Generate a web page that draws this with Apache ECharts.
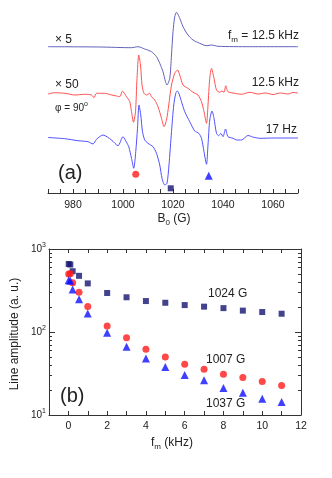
<!DOCTYPE html>
<html>
<head>
<meta charset="utf-8">
<script src="https://cdn.jsdelivr.net/npm/echarts@6/dist/echarts.min.js"></script>
<style>
html,body{margin:0;padding:0;background:#fff;}
#c{width:332px;height:478px;}
</style>
</head>
<body>
<div id="c"></div>
<script>
// ---- Panel (a): spectra (field in G, amplitude in arbitrary offset units) ----
var fieldA = [970, 990.7, 1003.4, 1006, 1008.7, 1011.4, 1013.4, 1014.7, 1016, 1017, 1017.6, 1018.7, 1019.4, 1020, 1020.7, 1021.4, 1022.7, 1024, 1026, 1028, 1030.7, 1033.4, 1035.4, 1038, 1050.7, 1070];
var ampA   = [146.3, 146, 145.3, 146.3, 144, 141.3, 136.3, 129.7, 121.3, 111.3, 108, 114.7, 138, 161.3, 176.3, 180.7, 174.7, 166.3, 158, 153, 149.7, 147.3, 148, 146.7, 146.3, 146.3];

var fieldB = [970, 972.7, 976.7, 980.7, 984.7, 987.4, 988.4, 989.4, 992.7, 995.4, 997.4, 998.7, 999.8, 1001.4, 1002.7, 1003.4, 1004.2, 1005, 1005.6, 1006.3, 1007, 1007.6, 1008.4, 1009.4, 1010.7, 1011.4, 1012.7, 1014, 1015.4, 1016.4, 1017.4, 1018.3, 1019.4, 1020.7, 1021.8, 1022.7, 1024, 1026, 1028, 1030, 1031.4, 1032.4, 1033.4, 1034, 1034.7, 1035.4, 1036.4, 1037.4, 1038.7, 1039.6, 1040.4, 1041.1, 1042, 1044.7, 1047.4, 1050.7, 1054, 1057, 1060, 1063, 1066, 1068, 1070];
var ampB   = [99, 100.3, 99.7, 98, 98.7, 98, 95.3, 99.7, 99.7, 98, 97, 96.3, 101.8, 96.3, 91.3, 81.3, 70.7, 81.3, 114.7, 138, 128, 108, 99.7, 98, 99.7, 96.3, 93, 86.3, 74.7, 66.3, 73, 88, 108, 119.7, 123, 118, 108, 104.7, 100.7, 98, 91.3, 81.3, 69.7, 88, 114.7, 124.7, 114.7, 103, 100.7, 102, 100.7, 107.3, 101.3, 99.7, 98.7, 100.7, 99, 100, 98.5, 100, 99, 100.5, 100];

var fieldC = [970, 976.7, 982, 986, 988, 989.4, 992, 995.4, 998, 1000, 1001.4, 1002.3, 1003.4, 1004.3, 1005.1, 1005.8, 1006.4, 1007.1, 1007.8, 1008.7, 1010, 1012, 1013.4, 1014.7, 1015.6, 1016.7, 1017.6, 1018.4, 1019.4, 1020.3, 1021.1, 1021.7, 1022.3, 1023.4, 1024.7, 1026.7, 1028.7, 1030.3, 1031.4, 1032.4, 1033.4, 1034, 1034.7, 1035.6, 1036.4, 1037.4, 1038.3, 1039.1, 1040, 1041, 1042, 1044, 1045.5, 1047.4, 1050, 1051.9, 1054.7, 1060.7, 1070];
var ampC   = [55.5, 54.3, 52.3, 51.3, 49, 53.7, 58, 53, 47.3, 56.3, 50.7, 46.3, 34.7, 24.7, 41.3, 64.7, 88, 78, 61.3, 53, 49.7, 46.3, 39.7, 28, 14.7, 8, 9.7, 28, 61.3, 88, 99.7, 102, 100, 91.3, 81.3, 71.3, 62, 59.7, 54.7, 41.3, 28.7, 48, 73, 82, 74.7, 59.7, 57.3, 59.7, 56.3, 64, 56.3, 54.7, 53, 53, 57.5, 56, 54.7, 55, 55];

// markers under the spectrum lines
var markCircleA = [[1005.1, 18.7]];
var markSquareA = [[1019.1, 4.7]];
var markTriA    = [[1034.3, 17.3]];

// ---- Panel (b): line amplitude vs modulation frequency ----
var fm      = [0.017, 0.1, 0.22, 0.55, 1, 2, 3, 4, 5, 6, 7, 8, 9, 10, 11];
var amp1024 = [660, 650, 540, 475, 385, 295, 262, 236, 225, 211, 202, 194, 181, 174, 166];
var amp1007 = [500, 505, 392, 301, 203, 118, 85, 62, 50, 41, 35.5, 31, 28.3, 25.3, 22.7];
var amp1037 = [420, 415, 326, 248, 167, 98, 66.5, 48, 38, 30.3, 26.2, 21.2, 18.5, 15.7, 14.3];

var xTicksA = [980, 1000, 1020, 1040, 1060];
var xTicksB = [0, 2, 4, 6, 8, 10, 12];

function zip(a, b) { return a.map(function (v, i) { return [v, b[i]]; }); }

var FONT = 'Liberation Sans, Arial, Helvetica, sans-serif';
var TXT = '#222';
var AX = '#333';

var chart = echarts.init(document.getElementById('c'), null, {renderer: 'canvas'});

function txt(x, y, text, size, align, rich, extra) {
  var o = {
    type: 'text', x: x, y: y, z: 100,
    style: {
      text: text, font: size + 'px ' + FONT, fill: TXT,
      align: align || 'left', verticalAlign: 'middle', rich: rich || undefined
    }
  };
  if (extra) for (var k in extra) o[k] = extra[k];
  return o;
}
var subRich = {sub: {fontSize: 8, fontFamily: FONT, fill: TXT, padding: [8, 0, 0, 0]}};
var supRich = {sup: {fontSize: 7, fontFamily: FONT, fill: TXT, padding: [0, 0, 7, 0]}};

var option = {
  animation: false,
  backgroundColor: '#fff',
  textStyle: {fontFamily: FONT},
  grid: [
    {left: 48, right: 34, top: 10, bottom: 285, containLabel: false},
    {left: 49, right: 31, top: 249, bottom: 63, containLabel: false}
  ],
  xAxis: [
    {
      gridIndex: 0, type: 'value', min: 970, max: 1070, interval: 5,
      axisLine: {show: true, lineStyle: {color: AX, width: 1}},
      axisTick: {show: true, inside: true, length: 4, lineStyle: {color: AX}},
      axisLabel: {
        fontSize: 10.5, color: TXT, margin: 7, fontFamily: FONT,
        formatter: function (v) { return xTicksA.indexOf(v) >= 0 ? String(v) : ''; }
      },
      splitLine: {show: false}
    },
    {
      gridIndex: 1, type: 'value', min: -1, max: 12, interval: 1, position: 'bottom',
      axisLine: {show: true, onZero: false, lineStyle: {color: AX, width: 1}},
      axisTick: {show: true, inside: true, length: 4, lineStyle: {color: AX}},
      axisLabel: {
        fontSize: 10.5, color: TXT, margin: 6, fontFamily: FONT,
        formatter: function (v) { return xTicksB.indexOf(v) >= 0 ? String(v) : ''; }
      },
      splitLine: {show: false}
    },
    {
      gridIndex: 1, type: 'value', min: -1, max: 12, interval: 1, position: 'top',
      axisLine: {show: true, onZero: false, lineStyle: {color: AX, width: 1}},
      axisTick: {show: true, inside: true, length: 4, lineStyle: {color: AX}},
      axisLabel: {show: false},
      splitLine: {show: false}
    }
  ],
  yAxis: [
    {gridIndex: 0, type: 'value', min: 0, max: 183, show: false},
    {
      gridIndex: 1, type: 'log', logBase: 10, min: 10, max: 1000, position: 'left',
      axisLine: {show: true, onZero: false, lineStyle: {color: AX, width: 1}},
      axisTick: {show: true, inside: true, length: 6, lineStyle: {color: AX}},
      minorTick: {show: true, splitNumber: 9, length: 3, lineStyle: {color: AX}},
      axisLabel: {
        color: TXT, margin: 3, fontFamily: FONT,
        formatter: function (v) { return '{b|10}{s|' + Math.round(Math.log(v) / Math.LN10) + '}'; },
        rich: {
          b: {fontSize: 10, fontFamily: FONT, color: TXT},
          s: {fontSize: 7, fontFamily: FONT, color: TXT, padding: [0, 0, 7, 0]}
        }
      },
      splitLine: {show: false}
    },
    {
      gridIndex: 1, type: 'log', logBase: 10, min: 10, max: 1000, position: 'right',
      axisLine: {show: true, onZero: false, lineStyle: {color: AX, width: 1}},
      axisTick: {show: true, inside: true, length: 6, lineStyle: {color: AX}},
      minorTick: {show: true, splitNumber: 9, length: 3, lineStyle: {color: AX}},
      axisLabel: {show: false},
      splitLine: {show: false}
    }
  ],
  series: [
    {type: 'line', xAxisIndex: 0, yAxisIndex: 0, data: zip(fieldA, ampA), showSymbol: false, smooth: 0.25,
      lineStyle: {color: '#6262bd', width: 1}, z: 3},
    {type: 'line', xAxisIndex: 0, yAxisIndex: 0, data: zip(fieldB, ampB), showSymbol: false, smooth: 0.25,
      lineStyle: {color: '#ff5252', width: 1}, z: 3},
    {type: 'line', xAxisIndex: 0, yAxisIndex: 0, data: zip(fieldC, ampC), showSymbol: false, smooth: 0.25,
      lineStyle: {color: '#5252ff', width: 1}, z: 3},
    {type: 'scatter', xAxisIndex: 0, yAxisIndex: 0, data: markCircleA, symbol: 'circle', symbolSize: 7,
      itemStyle: {color: '#ff1a1a'}},
    {type: 'scatter', xAxisIndex: 0, yAxisIndex: 0, data: markSquareA, symbol: 'rect', symbolSize: 6,
      itemStyle: {color: '#141470'}},
    {type: 'scatter', xAxisIndex: 0, yAxisIndex: 0, data: markTriA, symbol: 'triangle', symbolSize: 8,
      itemStyle: {color: '#0f0fff'}},

    {type: 'scatter', xAxisIndex: 1, yAxisIndex: 1, data: zip(fm, amp1024), symbol: 'rect', symbolSize: 6,
      itemStyle: {color: '#141470'}},
    {type: 'scatter', xAxisIndex: 1, yAxisIndex: 1, data: zip(fm, amp1007), symbol: 'circle', symbolSize: 7,
      itemStyle: {color: '#ff1a1a'}},
    {type: 'scatter', xAxisIndex: 1, yAxisIndex: 1, data: zip(fm, amp1037), symbol: 'triangle', symbolSize: 8,
      itemStyle: {color: '#0f0fff'}}
  ],
  graphic: [
    txt(55, 40, '× 5', 12),
    txt(55, 85, '× 50', 12),
    txt(55, 108, 'φ = 90{sup|o}', 10, 'left', supRich),
    txt(299, 36, 'f{sub|m} = 12.5 kHz', 12, 'right', subRich),
    txt(299, 83, '12.5 kHz', 12, 'right'),
    txt(297, 130, '17 Hz', 12, 'right'),
    txt(58, 173, '(a)', 20),
    txt(174, 219, 'B{sub|0} (G)', 12, 'center', subRich),
    txt(60, 396, '(b)', 20),
    txt(208, 294, '1024 G', 12),
    txt(206, 360, '1007 G', 12),
    txt(206, 404, '1037 G', 12),
    txt(172, 443, 'f{sub|m} (kHz)', 12, 'center', subRich),
    txt(15, 334, 'Line amplitude (a. u.)', 12, 'center', null, {rotation: Math.PI / 2})
  ]
};
chart.setOption(option);
</script>
</body>
</html>
